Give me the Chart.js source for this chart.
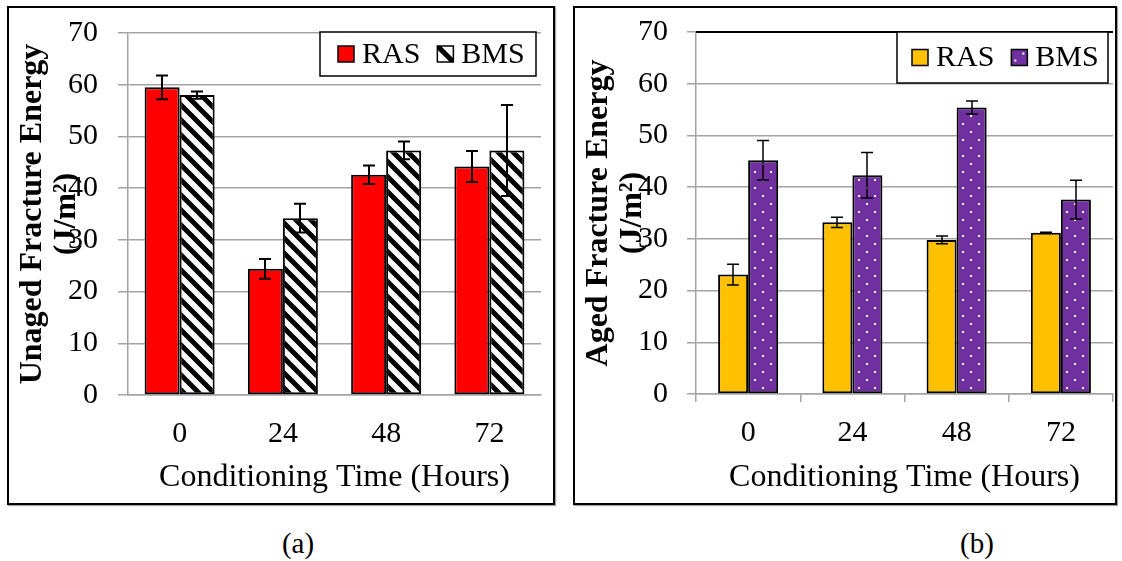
<!DOCTYPE html>
<html>
<head>
<meta charset="utf-8">
<script src="https://cdn.jsdelivr.net/npm/chart.js@4.4.1/dist/chart.umd.min.js"></script>
<style>
  body { margin: 0; background: #fff; width: 1122px; height: 561px; overflow: hidden; position: relative; font-family: 'Liberation Serif', 'Times New Roman', serif; }
  .panel { position: absolute; border: 2px solid #000; box-shadow: 1px 1px 1px rgba(0, 0, 0, 0.35); }
  .panel canvas { display: block; }
  .caption { position: absolute; top: 527px; width: 60px; font-size: 29px; text-align: center; }
</style>
</head>
<body>
<div class="panel" style="left:7px;top:6px;width:544px;height:495px"><canvas id="unagedChart" width="544" height="495"></canvas></div>
<div class="panel" style="left:573px;top:6px;width:540px;height:495px"><canvas id="agedChart" width="540" height="495"></canvas></div>
<div class="caption" style="left:268px">(a)</div>
<div class="caption" style="left:947px">(b)</div>
<script>
const hours = ['0', '24', '48', '72']
const yTicks = [0, 10, 20, 30, 40, 50, 60, 70]

// fracture energy (J/m²), mean and +/- spread
const unagedRAS = [59.5, 24.4, 42.6, 44.2]
const unagedRASErr = [2.3, 1.9, 1.8, 3.0]
const unagedBMS = [58.0, 34.2, 47.3, 47.3]
const unagedBMSErr = [0.7, 2.8, 1.7, 8.8]

const agedRAS = [23.1, 33.2, 29.8, 31.2]
const agedRASErr = [2.0, 1.0, 0.75, 0.1]
const agedBMS = [45.2, 42.3, 55.4, 37.6]
const agedBMSErr = [3.8, 4.4, 1.25, 3.75]

const SERIF = "'Liberation Serif', 'Times New Roman', serif"
const GRID = '#a3a3a3'

function stripePattern() {
  const c = document.createElement('canvas')
  c.width = 15
  c.height = 15
  const g = c.getContext('2d')
  g.fillStyle = '#fff'
  g.fillRect(0, 0, 15, 15)
  g.strokeStyle = '#000'
  g.lineWidth = 5
  g.beginPath()
  for (const o of [-15, 0, 15]) {
    g.moveTo(o - 5, -5)
    g.lineTo(o + 20, 20)
  }
  g.stroke()
  return g.createPattern(c, 'repeat')
}

function dotPattern(bg) {
  const c = document.createElement('canvas')
  c.width = 16
  c.height = 16
  const g = c.getContext('2d')
  g.fillStyle = bg
  g.fillRect(0, 0, 16, 16)
  g.fillStyle = '#fff'
  g.fillRect(3, 3, 2, 2)
  g.fillRect(11, 11, 2, 2)
  return g.createPattern(c, 'repeat')
}

const errorBars = {
  id: 'errorBars',
  afterDatasetsDraw(chart, args, opts) {
    const { ctx, scales } = chart
    ctx.save()
    ctx.strokeStyle = '#000'
    ctx.lineWidth = opts.lineWidth
    chart.data.datasets.forEach((ds, i) => {
      chart.getDatasetMeta(i).data.forEach((bar, j) => {
        const v = ds.data[j]
        const e = ds.errors[j]
        const top = scales.y.getPixelForValue(v + e)
        const bot = scales.y.getPixelForValue(v - e)
        const x = Math.round(bar.x)
        ctx.beginPath()
        ctx.moveTo(x, top)
        ctx.lineTo(x, bot)
        ctx.moveTo(x - 6, top)
        ctx.lineTo(x + 6, top)
        ctx.moveTo(x - 6, bot)
        ctx.lineTo(x + 6, bot)
        ctx.stroke()
      })
    })
    ctx.restore()
  },
}

// frame line along the top of the plot area
const plotTop = {
  id: 'plotTop',
  afterDatasetsDraw(chart, args, opts) {
    if (!opts.show) return
    const { ctx, chartArea } = chart
    ctx.save()
    ctx.strokeStyle = '#000'
    ctx.lineWidth = 2
    ctx.beginPath()
    ctx.moveTo(chartArea.left, chartArea.top)
    ctx.lineTo(chartArea.right, chartArea.top)
    ctx.stroke()
    ctx.restore()
  },
}

// rotated two-line y title, drawn over the tick labels
const sideTitle = {
  id: 'sideTitle',
  afterDraw(chart, args, opts) {
    const { ctx, chartArea } = chart
    const cy = (chartArea.top + chartArea.bottom) / 2
    ctx.save()
    ctx.font = `bold 32px ${SERIF}`
    ctx.fillStyle = '#000'
    ctx.textAlign = 'center'
    ctx.textBaseline = 'middle'
    opts.lines.forEach((line, i) => {
      ctx.save()
      ctx.translate(opts.xs[i], cy)
      ctx.rotate(-Math.PI / 2)
      ctx.fillText(line, 0, 0)
      ctx.restore()
    })
    ctx.restore()
  },
}

function drawMarker(ctx, ds, x, y, s) {
  ctx.save()
  if (ds.marker === 'stripe') {
    ctx.fillStyle = '#fff'
    ctx.fillRect(x, y, s, s)
    ctx.beginPath()
    ctx.rect(x, y, s, s)
    ctx.clip()
    ctx.strokeStyle = '#000'
    ctx.lineWidth = 5
    ctx.beginPath()
    ctx.moveTo(x, y)
    ctx.lineTo(x + s, y + s)
    ctx.stroke()
  } else if (ds.marker === 'dots') {
    ctx.fillStyle = ds.markerColor
    ctx.fillRect(x, y, s, s)
    ctx.fillStyle = '#fff'
    ctx.fillRect(x + 3, y + 10, 2, 2)
    ctx.fillRect(x + 11, y + 3, 2, 2)
  } else {
    ctx.fillStyle = ds.backgroundColor
    ctx.fillRect(x, y, s, s)
  }
  ctx.restore()
  ctx.strokeStyle = '#000'
  ctx.lineWidth = 1.5
  ctx.strokeRect(x, y, s, s)
}

const boxLegend = {
  id: 'boxLegend',
  afterDraw(chart, args, opts) {
    const { ctx, chartArea } = chart
    const x0 = chartArea.right + opts.right - opts.width
    const y0 = chartArea.top + opts.top
    ctx.save()
    ctx.fillStyle = '#fff'
    ctx.fillRect(x0, y0, opts.width, opts.height)
    ctx.strokeStyle = '#000'
    ctx.lineWidth = 1.5
    ctx.strokeRect(x0, y0, opts.width, opts.height)
    ctx.font = `30px ${SERIF}`
    ctx.textBaseline = 'middle'
    const cy = y0 + opts.height / 2
    let x = x0 + opts.padLeft
    chart.data.datasets.forEach((ds) => {
      drawMarker(ctx, ds, x, cy - 8, 16)
      ctx.fillStyle = '#000'
      ctx.fillText(ds.label, x + 24, cy + 1)
      x += 24 + ctx.measureText(ds.label).width + 17
    })
    ctx.restore()
  },
}

function buildChart(id, o) {
  return new Chart(document.getElementById(id), {
    type: 'bar',
    data: { labels: hours, datasets: o.datasets },
    options: {
      responsive: false,
      animation: false,
      layout: { padding: { top: o.top, right: o.right, left: 0, bottom: 0 } },
      datasets: {
        bar: {
          categoryPercentage: o.catPct,
          barPercentage: 1,
          borderColor: '#000',
          borderWidth: 2,
          borderSkipped: false,
        },
      },
      plugins: {
        legend: { display: false },
        tooltip: { enabled: false },
        errorBars: { lineWidth: o.errWidth },
        plotTop: { show: o.topLine },
        sideTitle: { lines: o.title, xs: [24, 58] },
        boxLegend: o.legend,
      },
      scales: {
        x: {
          afterFit: (scale) => {
            scale.height = o.xHeight
            scale.paddingLeft = 0
            scale.paddingRight = 0
          },
          grid: {
            display: o.xTicks,
            drawOnChartArea: false,
            drawTicks: o.xTicks,
            tickLength: 8,
            color: GRID,
            lineWidth: 1.5,
          },
          border: { color: GRID, width: 1.5 },
          ticks: { color: '#000', padding: o.xPad, font: { family: SERIF, size: 30 } },
          title: {
            display: true,
            text: 'Conditioning Time (Hours)',
            color: '#000',
            padding: { top: 0, bottom: 6 },
            font: { family: SERIF, size: 32 },
          },
        },
        y: {
          min: 0,
          max: 70,
          afterFit: (scale) => {
            scale.width = o.yWidth
            scale.paddingTop = 0
            scale.paddingBottom = 0
          },
          afterBuildTicks: (scale) => { scale.ticks = yTicks.map((v) => ({ value: v })) },
          grid: { color: GRID, lineWidth: 1.5, tickLength: o.tickLen },
          border: { color: GRID, width: 1.5 },
          ticks: { color: '#000', padding: o.yPad, font: { family: SERIF, size: 30 } },
        },
      },
    },
    plugins: [errorBars, plotTop, sideTitle, boxLegend],
  })
}

buildChart('unagedChart', {
  datasets: [
    { label: 'RAS', data: unagedRAS, errors: unagedRASErr, backgroundColor: '#ff0000' },
    { label: 'BMS', data: unagedBMS, errors: unagedBMSErr, backgroundColor: stripePattern(), marker: 'stripe' },
  ],
  title: ['Unaged Fracture Energy', '(J/m²)'],
  top: 25,
  right: 12,
  yWidth: 119,
  xHeight: 108,
  catPct: 0.678,
  xTicks: false,
  xPad: 21,
  tickLen: 10,
  yPad: 20,
  errWidth: 2,
  topLine: false,
  legend: { right: -5, top: -1, width: 216, height: 44, padLeft: 18 },
})

buildChart('agedChart', {
  datasets: [
    { label: 'RAS', data: agedRAS, errors: agedRASErr, backgroundColor: '#ffc000' },
    { label: 'BMS', data: agedBMS, errors: agedBMSErr, backgroundColor: dotPattern('#7030a0'), marker: 'dots', markerColor: '#7030a0' },
  ],
  title: ['Aged Fracture Energy', '(J/m²)'],
  top: 24,
  right: 2,
  yWidth: 121,
  xHeight: 109,
  catPct: 0.576,
  xTicks: true,
  xPad: 13,
  tickLen: 9,
  yPad: 19,
  errWidth: 1.5,
  topLine: true,
  legend: { right: -5, top: 0, width: 211, height: 51, padLeft: 15 },
})
</script>
</body>
</html>
